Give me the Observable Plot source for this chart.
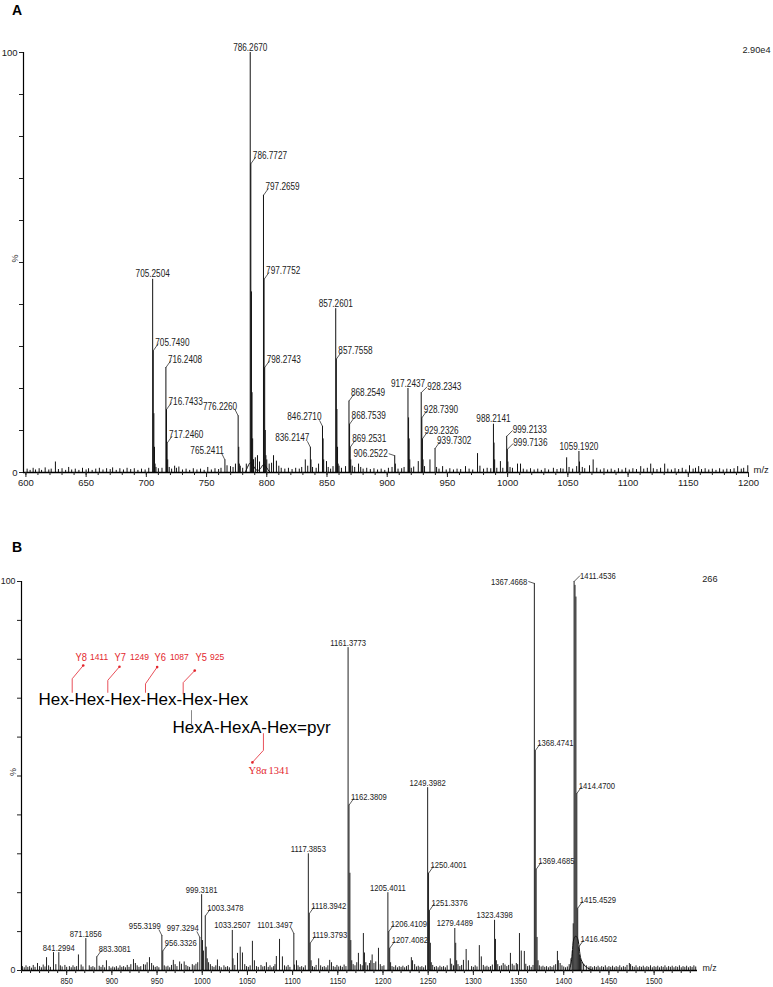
<!DOCTYPE html>
<html><head><meta charset="utf-8">
<script src="https://cdn.jsdelivr.net/npm/d3@7"></script>
<script src="https://cdn.jsdelivr.net/npm/@observablehq/plot@0.6"></script>
<style>
html,body{margin:0;padding:0;background:#fff;}
#wrap{position:relative;width:773px;height:987px;overflow:hidden;}
.panel{position:absolute;left:0;}
.tag{position:absolute;left:12px;font:bold 14px/14px "Liberation Sans",Arial,sans-serif;color:#000;}
</style></head><body>
<div id="wrap">
 <div id="pa" class="panel" style="top:0"></div>
 <div id="pb" class="panel" style="top:500px"></div>
 <div class="tag" style="top:3px">A</div>
 <div class="tag" style="top:540px">B</div>
</div>
<script>
// ---------------- Panel A data ----------------
const labMzA  = [786.2670,786.7727,797.2659,797.7752,798.2743,705.2504,705.7490,716.2408,716.7433,717.2460,765.2411,776.2260,836.2147,846.2710,857.2601,857.7558,868.2549,868.7539,869.2531,906.2522,917.2437,928.2343,928.7390,929.2326,939.7302,988.2141,999.2133,999.7136,1059.1920];
const labPctA = [100,73.5,66,46,25,46,29,25,15,7,3,13.5,6,11,39,27,17,11.5,6,4,20,19,13,8,5.7,11.5,8.6,5.5,5];
const labSideA = ["c","r","r","r","r","c","r","r","r","r","l","l","l","l","c","r","r","r","r","L","c","R","r","r","r","c","R","R","c"];
const isoMzA  = [706.25,706.75,707.25,717.75,776.73,777.23,787.27,787.77,788.27,788.77,798.77,799.27,836.72,846.77,847.27,858.26,858.76,859.26,869.75,906.75,917.74,918.24,918.74,929.73,988.71,989.21,1000.21,1059.69];
const isoPctA = [14,6,2,3,6,2,43,19,8,3,10,4,3,8,3,15,6,2,3,2,13,8,3,3,7,3,2.5,2.5];
const noiseMzA = [601,603.5,606,608,611,613,616,619,621,624.5,627,630,633,635.5,638,641,644,647,650,652,655,658,661,664,667,670,672,675,678,681,684,687,690,693,696,699,702,708,710,713,719,721,723.5,725,727,730,733,736,739,742,745,748,751,754,757,760,762,767,769.9,772,774,778,780,783,789,790.5,792.3,794,800,802,804,805.6,808,810,812,815,818,821,824,827,829,832,834,838,841,843,849.6,851,853,855,860,862,865.4,871,873,876.2,878,880,883,886,889,892,895,898,901,904,909,912,914,920,922,925.8,931,935.5,941,943,946,949,952,955,958,961,965,968,971,975,977,980,983,986,991,994,996,1002,1004,1008.2,1010.7,1013,1016,1019,1022,1025,1028,1031,1034,1038,1041,1044,1046,1049,1051,1054,1057.3,1062,1064,1068,1071,1074,1077,1080,1083,1086,1089,1092,1095,1098,1101,1104,1107,1110.5,1113,1116,1118.8,1121,1124,1127,1130.4,1133,1136,1139,1142,1145,1148,1151,1154,1156,1158.6,1161,1164,1167,1170,1173,1176,1179,1182,1185,1188,1191,1194,1196,1199.4];
const noisePctA = [0.8,0.5,1.0,0.6,0.9,0.5,1.1,0.6,0.8,2.5,0.7,0.9,0.5,1.2,0.6,0.8,0.5,1.0,0.6,0.9,0.5,0.8,1.0,0.6,0.9,0.7,1.1,0.5,0.9,0.6,1.0,0.7,0.9,0.5,0.8,0.6,1.0,1.2,0.9,1.0,1.2,0.8,1.5,1.0,1.3,0.6,0.8,0.5,0.9,0.6,0.8,0.5,1.2,0.6,0.9,0.7,1.0,1.6,1.4,1.2,2.0,1.5,1.0,2.0,3.0,3.5,4.0,2.5,3.0,2.0,2.2,4.0,2.7,1.5,1.0,0.8,1.0,0.7,1.0,0.8,1.2,3.0,1.5,1.2,1.0,2.0,2.6,1.2,0.8,1.4,1.5,1.0,1.4,1.5,1.2,2.0,1.2,0.8,1.0,0.7,0.9,0.6,0.8,0.5,1.0,1.2,0.8,0.9,1.2,1.0,1.3,2.6,1.4,3.0,1.2,0.8,1.4,0.6,0.9,0.6,0.8,0.7,1.4,0.8,0.6,4.5,1.5,0.8,1.0,0.9,1.0,2.6,1.0,1.2,1.0,2.0,2.0,0.8,0.6,0.9,0.6,0.8,0.5,0.9,0.6,1.0,0.7,0.9,0.8,3.5,1.2,0.8,1.4,1.2,0.9,1.6,3.0,1.0,0.6,0.9,0.6,0.8,0.5,0.9,0.6,1.0,0.6,0.9,0.7,1.4,0.8,1.0,2.0,0.9,0.7,1.0,2.0,0.8,0.6,0.9,0.7,1.0,0.6,1.6,0.8,1.0,1.4,0.7,0.9,0.6,0.8,0.5,0.9,0.6,0.8,0.7,0.9,1.4,0.8,1.0,1.6];
const humpMzA  = [782,784,786,788,790,792,795,797,799,801,803];
const humpPctA = [0,1.2,2.6,2.0,1.0,0.3,0.8,2.2,1.6,0.6,0];
const ticksMajorA = d3.range(600, 1201, 50);
const ticksMinorA = d3.range(600, 1201, 10);

// ---------------- Panel B data ----------------
const labMzB  = [1411.4536,1367.4668,1368.4741,1369.4685,1414.4700,1415.4529,1416.4502,1161.3773,1162.3809,1117.3853,1118.3942,1119.3793,1249.3982,1250.4001,1251.3376,1205.4011,1206.4109,1207.4082,1279.4489,1323.4398,999.3181,1003.3478,997.3294,955.3199,956.3326,1033.2507,1101.3497,871.1856,841.2994,883.3081];
const labPctB = [100,99.5,56.5,26,45.5,16,6,83,42.5,30,14.6,7,47,25,15.4,20,10,5.7,10.8,12.9,19.5,14,8.5,9,5,10.3,9.5,8.2,4.6,3.5];
const labSideB = ["R","L","r","r","r","r","r","c","r","c","r","r","c","r","r","c","r","r","c","c","c","r","l","l","r","c","l","c","c","r"];
const isoMzB  = [1412.46,1413.46,1410.5,1409.5,1408,1417.5,1418.5,1420,1422,1425,1428,1370.47,1371.5,1163.38,1164.38,1165.4,1252.4,1253.4,1280.45,1281.5,1324.44,1325.4,1000.3,1001.3,1004.35,1005.5,1120.4,1208.4,817.7,827.7,835.4,863,894,923.9,935,941.6,968,975,980,989,1016.8,1034,1039,1042,1044.5,1055.5,1057.7,1071,1082,1085.5,1088.7,1104.3,1128.8,1141,1143,1172.8,1178.3,1179.5,1188,1195,1231.4,1232.7,1274.5,1289,1292,1294.5,1306.6,1308.8,1333,1341,1347.5,1351,1353,1356.4,1393,1394,1472.6];
const isoPctB = [99,96,12,5,3,4,3,2.2,1.6,1.2,0.9,8.5,2.5,25,7.7,2.5,7,2,7,2.5,8,2.5,7.7,5,6,3,2.5,2,1.8,3.3,4.6,4,2.5,2.8,1.5,3.3,2.6,2.2,2.2,1.5,2.7,3,4.4,6,4.5,7.5,2.5,2,3.6,8,3.5,2.5,3,2.6,2,4.4,9.5,4.5,4,5.7,3.3,2.5,3,2.6,5.4,2.5,6.4,3.5,1.8,4.4,1.8,9.5,5,4.9,4.9,2.5,1.8];
const noiseMzB = [801,803,805,807,809,811,813,815,820,822,824,826,830,832,838,843,845,848,850,853,855,857,859,861,866,868,875,877,879,881,886,888,890,892,897,899,901,903,905,907,909,911,913,915,917,919,921,926,928,930,932,937,939,944,946,948,950,952,958,960,962,964,966,970,972,977,982,984,986,991,993,995,1007,1009,1011,1013,1015,1019,1021,1024,1026,1028,1030,1036,1047,1049,1051,1053,1060,1062,1065,1067,1069,1073,1075,1077,1079,1080.5,1091,1093,1095,1097,1102,1106,1108,1110,1112,1114,1122,1124,1126,1131,1133,1135,1137,1139,1145,1147,1149,1151,1153,1155,1157,1159,1167,1169,1171,1175,1177,1181,1183,1185,1186.5,1190,1192,1197,1199,1201,1210,1212,1214,1216,1218,1220,1222,1224,1226,1228,1235,1237,1239,1241,1243,1245,1247,1255,1257,1259,1261,1263,1265,1267,1269,1271,1276,1278,1283,1285,1287,1298,1300,1302,1304,1311,1313,1315,1317,1319,1321,1327,1329,1331,1335,1337,1339,1343,1345,1349,1358,1360,1362,1364,1366,1373,1375,1377,1379,1381,1383,1385,1387,1389,1391,1396,1398,1400,1402,1404,1406,1430,1432,1434,1436,1438,1440,1442,1444,1446,1448,1450,1452,1454,1456,1458,1460,1462,1464,1466,1468,1470,1474,1476,1478,1480,1482,1484,1486,1488,1490,1492,1494,1496,1498,1500,1502,1504,1506,1508,1510,1512,1514,1516,1518,1520,1522,1524,1526,1528,1530,1532,1534,1536,1538,1540,1542,1544,1546];
const noisePctB = [1.0,0.7,1.2,0.8,1.0,0.6,1.3,0.8,1.0,0.7,1.4,0.9,1.2,0.8,1.5,1.2,0.9,1.3,0.8,1.0,0.7,1.2,0.8,1.0,1.4,0.9,1.2,0.8,1.0,0.7,1.1,0.8,1.3,0.7,1.0,0.6,0.9,0.7,1.0,0.6,1.2,0.8,1.0,0.7,1.3,0.8,1.5,1.8,1.2,0.8,1.0,1.4,2.0,1.8,1.2,0.8,1.0,0.7,1.2,0.9,1.1,0.7,1.3,1.5,1.0,1.6,1.3,1.0,0.8,1.2,1.6,2.0,2.0,1.5,1.0,0.8,1.2,1.0,0.7,1.2,0.8,1.0,0.7,1.3,1.5,1.0,0.8,1.2,1.0,0.8,1.3,0.9,1.0,0.8,1.2,0.7,1.0,1.5,1.2,0.9,1.3,0.8,1.4,1.2,0.8,1.0,0.7,1.2,1.0,0.8,1.3,1.2,0.8,1.0,0.7,1.2,1.0,0.8,1.3,0.9,1.1,0.8,1.4,1.0,1.5,1.2,2.0,1.5,1.2,2.0,1.2,1.8,2.5,1.8,2.2,1.5,1.0,1.2,1.0,0.8,1.2,0.7,1.0,0.8,1.1,0.7,1.0,1.3,1.5,0.9,1.1,0.8,1.0,0.7,1.2,1.3,0.8,1.0,0.7,1.1,0.8,1.0,0.7,1.2,1.6,1.2,1.5,1.0,1.3,1.0,0.8,1.2,0.9,1.3,0.9,1.1,0.8,1.0,1.4,1.5,1.0,1.2,1.4,1.0,1.3,1.6,1.2,1.5,1.6,1.0,1.2,0.8,1.3,1.2,0.9,1.1,0.8,1.0,0.7,1.0,0.8,1.2,1.5,1.8,1.2,0.9,0.7,0.9,1.5,1.0,0.7,1.0,0.8,1.1,0.7,1.0,0.8,1.2,0.7,1.0,0.8,1.1,0.7,1.0,0.8,1.2,0.7,1.0,0.8,1.3,1.5,1.0,0.8,1.2,0.7,1.0,0.8,1.1,0.7,1.0,0.8,1.2,0.7,1.0,0.8,1.1,0.7,1.0,0.8,1.2,0.7,1.0,0.8,1.1,0.7,1.0,0.8,1.2,0.7,1.0,0.8,1.1,0.7,1.0,0.8,1.2,0.9];
const humpMzB  = [1406,1408,1409.5,1410.5,1416,1417.5,1419,1421,1424,1428,1432];
const humpPctB = [0,1.5,4,9,9,4.5,2.8,1.8,1.0,0.4,0];
const ticksMajorB = d3.range(850, 1501, 50);
const ticksMinorB = d3.range(800, 1548, 10);

// structure annotation of panel B (in m/z, % units)
const ionNames   = ["Y8","Y7","Y6","Y5"];
const ionMasses  = ["1411","1249","1087","925"];
const ionNameMz  = [859.7,902.9,947.1,992.5];
const ionMassMz  = [875.7,920.0,964.2,1008.5];
const ionTextPct = 80.5;
const ionLeadX    = [856.1,895.5,937.2,978.9];
const ionLeadTipX = [868.3,908.4,950.1,991.7];
const ionLeadBase = [71.5,71.5,71.5,71.1];
const ionLeadKnee = [75.0,74.6,73.7,74.0];
const ionLeadTip  = [78.4,78.1,78.0,77.1];
const chainTexts  = ["Hex-Hex-Hex-Hex-Hex-Hex","HexA-HexA-Hex=pyr"];
const chainMz     = [818.8,967.0];
const chainPct    = [69.7,62.5];
const linkMz = [988.1], linkPct = [66.8, 63.2];
const alphaName = "Y8\u03b1", alphaMass = "1341";
const alphaMz = [1051.1,1073.2], alphaPct = 51.4;
const alphaLeadMz = [1067.7,1067.7,1055.5], alphaLeadPct = [60.9,56.6,53.5];

// ---------------- builder ----------------
const SANS = '"Liberation Sans",Arial,sans-serif';
const SERIF = '"Liberation Serif","Times New Roman",serif';
function build(p) {
  const iw = p.width - p.ml - p.mr, ih = p.height - p.mt - p.mb;
  const kx = iw / (p.domain[1] - p.domain[0]), ky = ih / 100;
  const sticks = [];
  p.noiseMz.forEach((m,i)=>sticks.push({mz:m,pct:p.noisePct[i]}));
  p.isoMz.forEach((m,i)=>sticks.push({mz:m,pct:p.isoPct[i]}));
  const labs = p.labMz.map((m,i)=>({mz:m,pct:p.labPct[i],side:p.labSide[i],t:m.toFixed(4)}));
  labs.forEach(d=>sticks.push({mz:d.mz,pct:d.pct}));
  const off = {r:[5,7], R:[6,6], l:[-3,6], L:[-6,2]};
  const leads = labs.filter(d=>d.side!=="c").map(d=>({x1:d.mz,y1:d.pct,x2:d.mz+off[d.side][0]/kx,y2:d.pct+off[d.side][1]/ky}));
  const hump = p.humpMz.map((m,i)=>({mz:m,pct:p.humpPct[i]}));
  const T = {fontSize:p.labFs,fill:"#222",ariaDescription:"peak label"};
  const marks = [
    Plot.ruleX(sticks,{x:"mz",y:"pct",stroke:p.stick,strokeWidth:1}),
    Plot.line(hump,{x:"mz",y:"pct",stroke:"#111",strokeWidth:1,curve:"basis"}),
    Plot.ruleY([0],{stroke:"#000",strokeWidth:1.4}),
    Plot.ruleX([p.domain[0]],{y1:0,y2:100,stroke:"#000",strokeWidth:1.2}),
    Plot.axisY({ticks:d3.range(0,101,10),tickSize:4,tickPadding:2,label:null,
      tickFormat:d=>(d===0||d===100)?String(d):"",fontSize:p.tickFs}),
    Plot.axisX({ticks:p.major,tickSize:5,tickPadding:2,label:null,tickFormat:d=>String(d),fontSize:p.tickFs}),
    Plot.axisX({ticks:p.minor,tickSize:3,label:null,tickFormat:()=>""}),
    Plot.text(["%"],{frameAnchor:"left",dx:-8,rotate:-90,fontSize:9,fill:"#333"}),
    Plot.text(["m/z"],{frameAnchor:"bottom-right",dx:p.mzdx,textAnchor:"start",fontSize:p.tickFs,fill:"#222"}),
    Plot.text([p.note],{frameAnchor:"top-right",dx:p.notedx,dy:-6,textAnchor:"end",fontSize:9.2,fill:"#222"}),
    Plot.link(leads,{x1:"x1",y1:"y1",x2:"x2",y2:"y2",stroke:"#333",strokeWidth:0.8}),
    Plot.text(labs.filter(d=>d.side==="c"),{x:"mz",y:"pct",text:"t",dy:-2,lineAnchor:"bottom",...T}),
    Plot.text(labs.filter(d=>d.side==="r"),{x:"mz",y:"pct",text:"t",dx:2,dy:-5,textAnchor:"start",lineAnchor:"bottom",...T}),
    Plot.text(labs.filter(d=>d.side==="R"),{x:"mz",y:"pct",text:"t",dx:6,dy:-3,textAnchor:"start",lineAnchor:"bottom",...T}),
    Plot.text(labs.filter(d=>d.side==="l"),{x:"mz",y:"pct",text:"t",dx:-1,dy:-6,textAnchor:"end",lineAnchor:"bottom",...T}),
    Plot.text(labs.filter(d=>d.side==="L"),{x:"mz",y:"pct",text:"t",dx:-7,dy:-2,textAnchor:"end",lineAnchor:"middle",...T}),
    ...(p.extra||[])
  ];
  return Plot.plot({
    width:p.width,height:p.height,marginTop:p.mt,marginBottom:p.mb,marginLeft:p.ml,marginRight:p.mr,
    x:{domain:p.domain,axis:null},y:{domain:[0,100],axis:null},
    style:{fontFamily:SANS,color:"#222",background:"transparent"},
    marks
  });
}
// narrow the digits like the condensed font of the original software
function condense(svg, selector, f) {
  svg.querySelectorAll(selector).forEach(g => g.querySelectorAll("text").forEach(t => {
    const w = t.getComputedTextLength();
    if (w > 0) { t.setAttribute("textLength", (w * f).toFixed(2)); t.setAttribute("lengthAdjust", "spacingAndGlyphs"); }
  }));
}

// annotation marks for panel B
const red = "#e3262d", redLine = "#e8505a";
const ionLines = [];
ionNames.forEach((n,i)=>{
  ionLines.push({g:i,mz:ionLeadX[i],pct:ionLeadBase[i]},{g:i,mz:ionLeadX[i],pct:ionLeadKnee[i]},{g:i,mz:ionLeadTipX[i],pct:ionLeadTip[i]});
});
alphaLeadMz.forEach((m,i)=>ionLines.push({g:9,mz:m,pct:alphaLeadPct[i]}));
const tips = ionNames.map((n,i)=>({mz:ionLeadTipX[i],pct:ionLeadTip[i]})).concat([{mz:alphaLeadMz[2],pct:alphaLeadPct[2]}]);
const extraB = [
  Plot.line(ionLines,{x:"mz",y:"pct",z:"g",stroke:redLine,strokeWidth:1}),
  Plot.dot(tips,{x:"mz",y:"pct",r:1.3,fill:red,stroke:null}),
  Plot.ruleX(linkMz,{y1:linkPct[0],y2:linkPct[1],stroke:"#888",strokeWidth:1}),
  Plot.text(ionNames,{x:(d,i)=>ionNameMz[i],y:()=>ionTextPct,textAnchor:"start",fontSize:11,fill:red,fontFamily:SANS,ariaDescription:"ion name"}),
  Plot.text(ionMasses,{x:(d,i)=>ionMassMz[i],y:()=>ionTextPct,textAnchor:"start",fontSize:8.5,fill:red,fontFamily:SANS}),
  Plot.text(chainTexts,{x:(d,i)=>chainMz[i],y:(d,i)=>chainPct[i],textAnchor:"start",fontSize:17,fill:"#000",fontFamily:SANS}),
  Plot.text([alphaName],{x:()=>alphaMz[0],y:()=>alphaPct,textAnchor:"start",fontSize:10.5,fill:red,fontFamily:SERIF}),
  Plot.text([alphaMass],{x:()=>alphaMz[1],y:()=>alphaPct,textAnchor:"start",fontSize:10.5,fill:red,fontFamily:SERIF})
];

const svgA = build({
  width:773,height:496,mt:52,mb:24,ml:23,mr:25,domain:[598,1200],
  noiseMz:noiseMzA,noisePct:noisePctA,isoMz:isoMzA,isoPct:isoPctA,
  labMz:labMzA,labPct:labPctA,labSide:labSideA,humpMz:humpMzA,humpPct:humpPctA,
  major:ticksMajorA,minor:ticksMinorA,tickFs:9.5,labFs:10,stick:"#111",
  mzdx:5,note:"2.90e4",notedx:22
});
document.getElementById("pa").append(svgA);
const svgB = build({
  width:773,height:487,mt:81,mb:17,ml:21,mr:76,domain:[800,1548],
  noiseMz:noiseMzB,noisePct:noisePctB,isoMz:isoMzB,isoPct:isoPctB,
  labMz:labMzB,labPct:labPctB,labSide:labSideB,humpMz:humpMzB,humpPct:humpPctB,
  major:ticksMajorB,minor:ticksMinorB,tickFs:8.8,labFs:9.6,stick:"#222",
  mzdx:5,note:"266",notedx:20,extra:extraB
});
document.getElementById("pb").append(svgB);
condense(svgA, 'g[aria-description="peak label"]', 0.82);
condense(svgB, 'g[aria-description="peak label"]', 0.8);
condense(svgB, 'g[aria-label="x-axis tick label"]', 0.85);
condense(svgB, 'g[aria-description="ion name"]', 0.85);
</script>
</body></html>
